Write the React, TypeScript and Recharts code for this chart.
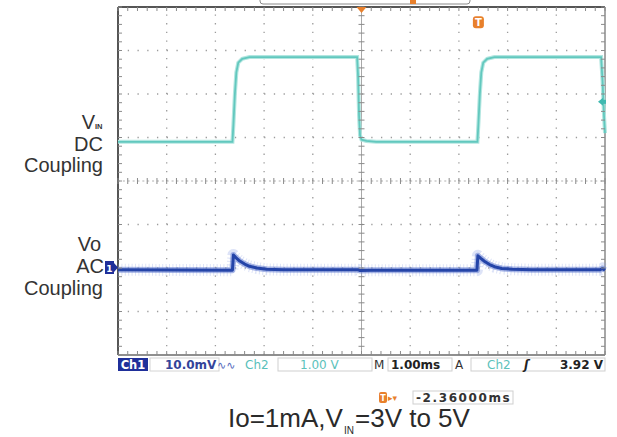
import React from 'react';
import { ComposedChart, Line, XAxis, YAxis, Scatter, ReferenceLine } from 'recharts';

const CHART_W = 617;
const CHART_H = 437;
const MARGIN = { top: 7, right: 12, bottom: 82, left: 118 };

// Scope settings
const CH1_MV_PER_DIV = 10;
const CH1_GROUND_DIV = 2.0;
const CH2_V_PER_DIV = 1.0;
const CH2_GROUND_DIV = 1.9;
const TRIGGER_LEVEL_V = 3.92;
const TRIGGER_TIME_MS = 7.39;

// Ch2: VIN (DC coupling), time in ms from left edge (1.00 ms/div)
const vinTime = [0, 2.35, 2.37, 2.40, 2.43, 2.47, 2.55, 2.70, 4.91, 4.93, 4.95, 4.97, 5.00, 5.10, 5.30, 7.38, 7.40, 7.43, 7.46, 7.50, 7.58, 7.73, 9.92, 9.95, 9.98, 10];
const vinVolts = [3.0, 3.0, 3.4, 4.1, 4.6, 4.82, 4.91, 4.95, 4.95, 4.5, 3.6, 3.15, 3.05, 3.02, 3.0, 3.0, 3.4, 4.1, 4.6, 4.82, 4.91, 4.95, 4.95, 4.4, 3.6, 3.2];

// Ch1: Vo (AC coupling), millivolts
const voTime = [0, 2.35, 2.37, 2.42, 2.50, 2.60, 2.70, 2.85, 3.05, 3.40, 4.93, 4.97, 5.20, 7.37, 7.39, 7.45, 7.53, 7.63, 7.73, 7.88, 8.10, 8.50, 9.90, 9.95, 10];
const voMilliVolts = [-0.4, -0.5, 3.0, 2.4, 1.6, 0.9, 0.4, 0.0, -0.3, -0.4, -0.4, -0.6, -0.5, -0.5, 2.8, 2.2, 1.5, 0.8, 0.3, -0.1, -0.3, -0.4, -0.4, -0.1, -0.5];

// Graticule
const xDivisions = [0, 1, 2, 3, 4, 5, 6, 7, 8, 9, 10];
const yDivisions = [0, 1, 2, 3, 4, 5, 6, 7, 8];
const X_CENTER = 5;
const Y_CENTER = 4;
const xMinorTicks = Array.from({ length: 51 }, (_, i) => +(i * 0.2).toFixed(2));
const yMinorTicks = Array.from({ length: 41 }, (_, i) => +(i * 0.2).toFixed(2));

const vinData = vinTime.map((t, i) => ({ t, v: vinVolts[i] / CH2_V_PER_DIV + CH2_GROUND_DIV }));
const voData = voTime.map((t, i) => ({ t, v: voMilliVolts[i] / CH1_MV_PER_DIV + CH1_GROUND_DIV }));

const topTicks = xMinorTicks.map((t) => ({ t, v: 8 }));
const bottomTicks = xMinorTicks.map((t) => ({ t, v: 0 }));
const hCenterTicks = xMinorTicks.map((t) => ({ t, v: Y_CENTER }));
const leftTicks = yMinorTicks.map((v) => ({ t: 0, v }));
const rightTicks = yMinorTicks.map((v) => ({ t: 10, v }));
const vCenterTicks = yMinorTicks.map((v) => ({ t: X_CENTER, v }));

const TICK = '#8a8a8a';
const mk = (dx1: number, dy1: number, dx2: number, dy2: number) => (p: any) => (
  <line x1={p.cx + dx1} y1={p.cy + dy1} x2={p.cx + dx2} y2={p.cy + dy2} stroke={TICK} strokeWidth={1} />
);

const ch1Marker = [{ t: 0, v: CH1_GROUND_DIV }];
const trigLevelMarker = [{ t: 10, v: TRIGGER_LEVEL_V / CH2_V_PER_DIV + CH2_GROUND_DIV }];
const trigTimeMarker = [{ t: TRIGGER_TIME_MS, v: 7.65 }];
const horizPosMarker = [{ t: X_CENTER, v: 8 }];

const Ch1Shape = (p: any) => (
  <g>
    <rect x={p.cx - 13} y={p.cy - 7} width={9} height={13} fill="#1f2f9a" />
    <polygon points={`${p.cx - 4},${p.cy - 5} ${p.cx},${p.cy - 0.5} ${p.cx - 4},${p.cy + 4}`} fill="#1f2f9a" />
    <text x={p.cx - 8.5} y={p.cy + 3.5} fontSize={9} fontFamily="DejaVu Sans" fontWeight="bold" fill="#fff" textAnchor="middle">1</text>
  </g>
);
const TrigLevelShape = (p: any) => (
  <g>
    <polygon points={`${p.cx - 7},${p.cy} ${p.cx - 2},${p.cy - 4} ${p.cx - 2},${p.cy + 4}`} fill="#3fb9b0" />
    <rect x={p.cx - 2} y={p.cy - 2} width={3} height={4} fill="#3fb9b0" />
  </g>
);
const TrigTimeShape = (p: any) => (
  <g>
    <rect x={p.cx - 5} y={p.cy - 6} width={11} height={12} rx={3} fill="#e8802c" />
    <text x={p.cx + 0.5} y={p.cy + 4} fontSize={10} fontFamily="DejaVu Sans" fontWeight="bold" fill="#fff" textAnchor="middle">T</text>
  </g>
);
const HorizPosShape = (p: any) => (
  <polygon points={`${p.cx - 5},${p.cy} ${p.cx + 5},${p.cy} ${p.cx},${p.cy + 6}`} fill="#e8802c" />
);

const statusFont = 'DejaVu Sans';

export default function App() {
  return (
    <div style={{ position: 'absolute', left: 0, top: 0, width: CHART_W, height: CHART_H, background: '#fff' }}>
      <ComposedChart width={CHART_W} height={CHART_H} margin={MARGIN}>
        <XAxis type="number" dataKey="t" domain={[0, 10]} hide />
        <YAxis type="number" domain={[0, 8]} hide />
        {xDivisions.filter((x) => x > 0 && x < 10 && x !== X_CENTER).map((x) => (
          <ReferenceLine key={'gx' + x} x={x} stroke="#9c9c9c" strokeWidth={1.3} strokeDasharray="1.3 7.4" />
        ))}
        {yDivisions.filter((y) => y > 0 && y < 8 && y !== Y_CENTER).map((y) => (
          <ReferenceLine key={'gy' + y} y={y} stroke="#9c9c9c" strokeWidth={1.3} strokeDasharray="1.3 8.44" />
        ))}
        <ReferenceLine x={X_CENTER} stroke="#a8a8a8" strokeWidth={1} />
        <ReferenceLine y={Y_CENTER} stroke="#b0b0b0" strokeWidth={1} strokeDasharray="2 2.87" />
        <Scatter data={topTicks} dataKey="v" shape={mk(0, 0, 0, 4)} isAnimationActive={false} />
        <Scatter data={bottomTicks} dataKey="v" shape={mk(0, 0, 0, -4)} isAnimationActive={false} />
        <Scatter data={hCenterTicks} dataKey="v" shape={mk(0, -3, 0, 3)} isAnimationActive={false} />
        <Scatter data={leftTicks} dataKey="v" shape={mk(0, 0, 4, 0)} isAnimationActive={false} />
        <Scatter data={rightTicks} dataKey="v" shape={mk(0, 0, -4, 0)} isAnimationActive={false} />
        <Scatter data={vCenterTicks} dataKey="v" shape={mk(-3, 0, 3, 0)} isAnimationActive={false} />
        <ReferenceLine x={0} stroke="#555" strokeWidth={2} />
        <ReferenceLine y={8} stroke="#555" strokeWidth={2} />
        <ReferenceLine x={10} stroke="#8a8a8a" strokeWidth={1.5} />
        <ReferenceLine y={0} stroke="#6a6a6a" strokeWidth={1.5} />
        <Line data={vinData} dataKey="v" type="linear" stroke="#b2e6e0" strokeWidth={4} dot={false} isAnimationActive={false} />
        <Line data={vinData} dataKey="v" type="linear" stroke="#62c8be" strokeWidth={1.8} dot={false} isAnimationActive={false} />
        <Line data={voData} dataKey="v" type="linear" stroke="#8fa3e6" strokeOpacity={0.3} strokeWidth={12} strokeDasharray="1 2.4" strokeLinejoin="round" dot={false} isAnimationActive={false} />
        <Line data={voData} dataKey="v" type="linear" stroke="#7087d6" strokeOpacity={0.6} strokeWidth={6} strokeLinejoin="round" dot={false} isAnimationActive={false} />
        <Line data={voData} dataKey="v" type="linear" stroke="#2444a8" strokeWidth={3} strokeLinejoin="round" dot={false} isAnimationActive={false} />
        <Scatter data={ch1Marker} dataKey="v" shape={Ch1Shape} isAnimationActive={false} />
        <Scatter data={trigLevelMarker} dataKey="v" shape={TrigLevelShape} isAnimationActive={false} />
        <Scatter data={trigTimeMarker} dataKey="v" shape={TrigTimeShape} isAnimationActive={false} />
        <Scatter data={horizPosMarker} dataKey="v" shape={HorizPosShape} isAnimationActive={false} />
      </ComposedChart>
      <svg width={CHART_W} height={CHART_H} style={{ position: 'absolute', left: 0, top: 0, pointerEvents: 'none' }}>
        {/* top record-length bar fragment */}
        <path d="M260,-4 L260,1 Q260,4 263,4 L467,4 Q470,4 470,1 L470,-4" fill="none" stroke="#8a8a8a" strokeWidth={1} />
        <rect x={410} y={-1} width={6} height={5} fill="#e8802c" />
        {/* left labels */}
        <g fontFamily="Liberation Sans, Arial, sans-serif" fontSize={20} fill="#333">
          <text x={95} y={129} textAnchor="end">V</text>
          <text x={95} y={129} fontSize={7.5} fontWeight="bold">IN</text>
          <text x={103} y={151} textAnchor="end">DC</text>
          <text x={103} y={172} textAnchor="end">Coupling</text>
          <text x={101} y={251} textAnchor="end">Vo</text>
          <text x={104} y={273} textAnchor="end">AC</text>
          <text x={103} y={295} textAnchor="end">Coupling</text>
        </g>
        {/* status bar */}
        <g fontFamily={statusFont} fontSize={12} fontWeight="bold">
          <rect x={118} y={358} width={30} height={13} fill="#1f2f9a" />
          <text x={133} y={369} fill="#fff" textAnchor="middle" fontSize={11.5}>Ch1</text>
          <rect x={150} y={358} width={69} height={13} fill="none" stroke="#d4d4d4" />
          <text x={165} y={369} fill="#33449a">10.0mV</text>
          <text x={217} y={369} fill="#5a6fc0" fontSize={11} fontWeight="normal">∿∿</text>
          <text x={245} y={369} fill="#58c0ba" fontWeight="normal">Ch2</text>
          <rect x={278} y={358} width={94} height={13} fill="none" stroke="#cfcfcf" />
          <text x={300} y={369} fill="#5cc2bb" fontWeight="normal">1.00 V</text>
          <text x={374} y={369} fill="#333" fontWeight="normal">M</text>
          <rect x={388} y={358} width={64} height={13} fill="none" stroke="#cfcfcf" />
          <text x={391} y={369} fill="#222">1.00ms</text>
          <text x={455} y={369} fill="#333" fontWeight="normal">A</text>
          <rect x={471} y={358} width={134} height={13} fill="none" stroke="#cfcfcf" />
          <text x={487} y={369} fill="#5cc2bb" fontWeight="normal">Ch2</text>
          <text x={524} y={369} fill="#222" fontStyle="italic">ʃ</text>
          <text x={603} y={369} fill="#222" textAnchor="end">3.92 V</text>
        </g>
        {/* trigger position readout */}
        <rect x={379} y={392} width={8} height={11} rx={2} fill="#e8802c" />
        <text x={383} y={401} fontSize={8} fontFamily={statusFont} fontWeight="bold" fill="#fff" textAnchor="middle">T</text>
        <text x={388} y={401} fontSize={9} fontFamily={statusFont} fill="#e8802c">▸▾</text>
        <rect x={413} y={391} width={100} height={13} fill="none" stroke="#cfcfcf" />
        <text x={416} y={401.5} fontSize={12} fontFamily={statusFont} fontWeight="bold" fill="#333" letterSpacing={1.6}>-2.36000ms</text>
        {/* caption */}
        <g fontFamily="Liberation Sans, Arial, sans-serif" fill="#2a2a2a">
          <text x={228} y={427} fontSize={26}>Io=1mA,V</text>
          <text x={344} y={434} fontSize={10}>IN</text>
          <text x={355} y={427} fontSize={26}>=3V to 5V</text>
        </g>
      </svg>
    </div>
  );
}
